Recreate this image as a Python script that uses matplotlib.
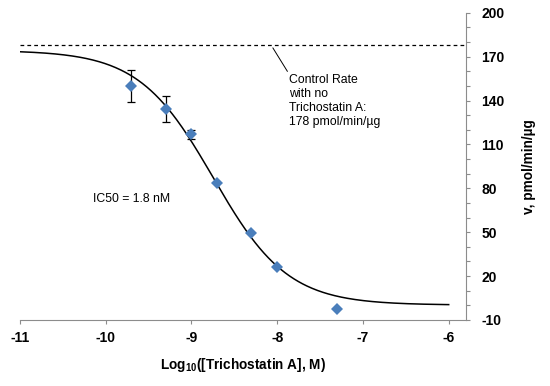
import matplotlib
matplotlib.use("Agg")
import matplotlib.pyplot as plt
import numpy as np
from matplotlib.ticker import MultipleLocator

plt.rcParams["font.family"] = ["Liberation Sans", "DejaVu Sans"]
plt.rcParams["mathtext.fontset"] = "custom"
plt.rcParams["mathtext.bf"] = "Liberation Sans:bold"
plt.rcParams["mathtext.rm"] = "Liberation Sans"
plt.rcParams["axes.unicode_minus"] = False

# measured rates (log10 of concentration in M)
log_conc = [-9.7, -9.3, -9.0, -8.7, -8.3, -8.0, -7.3]
rate = [150, 134, 117, 83.5, 49.5, 26, -2.5]
rate_err = [11, 9, 3, 0, 0, 0, 0]

# four-parameter fit
fit_top = 174.3
fit_bottom = 0.2
log_ic50 = np.log10(1.8e-9)
hill = 1.0
control_rate = 178

x_ticks = [-11, -10, -9, -8, -7, -6]
y_ticks = [-10, 20, 50, 80, 110, 140, 170, 200]

grey = "#8c8c8c"

fig = plt.figure(figsize=(5.5, 3.86), dpi=100)
ax = fig.add_axes([0.036, 0.171, 0.811, 0.796])

x_fit = np.linspace(-11, -6, 400)
y_fit = fit_bottom + (fit_top - fit_bottom) / (1 + 10 ** ((x_fit - log_ic50) * hill))
ax.plot(x_fit, y_fit, color="black", lw=1.1, zorder=2)

ax.axhline(control_rate, color="black", lw=0.9, ls=(0, (3, 2.5)), zorder=1)

ax.errorbar(log_conc, rate, yerr=[e if e > 0 else np.nan for e in rate_err],
            fmt="none", ecolor="black", elinewidth=0.9, capsize=3, capthick=0.9,
            zorder=3)
ax.plot(log_conc, rate, "D", color="#4a7ebb", markersize=6, zorder=4,
        markeredgewidth=0)

ax.set_xlim(-11, -5.8)
ax.set_ylim(-10, 200)

ax.spines["top"].set_visible(False)
ax.spines["left"].set_visible(False)
ax.spines["right"].set_color(grey)
ax.spines["bottom"].set_color(grey)
ax.spines["bottom"].set_bounds(-11, -5.8)

ax.yaxis.tick_right()
ax.yaxis.set_label_position("right")
ax.set_xticks(x_ticks)
ax.set_yticks(y_ticks)
ax.yaxis.set_minor_locator(MultipleLocator(10))
ax.tick_params(axis="both", which="both", color=grey, length=3, width=0.8,
               direction="out", labelsize=10, pad=5)
ax.tick_params(axis="y", which="major", pad=8)
for lab in ax.get_xticklabels() + ax.get_yticklabels():
    lab.set_fontweight("bold")

ax.set_xlabel(r"Log$_{\mathbf{10}}$([Trichostatin A], M)", fontsize=9.8,
              fontweight="bold", labelpad=8)
ax.set_ylabel("v, pmol/min/µg", fontsize=9.8, fontweight="bold", labelpad=13,
              rotation=90)

ax.text(-10.15, 73, "IC50 = 1.8 nM", fontsize=8.8, va="center", ha="left")
ax.annotate("Control Rate\nwith no\nTrichostatin A:\n178 pmol/min/µg",
            xy=(-8.05, 176), xytext=(-7.86, 158), fontsize=8.8,
            ha="left", va="top", linespacing=1.2,
            arrowprops=dict(arrowstyle="-", color="black", lw=0.7,
                            shrinkA=0, shrinkB=0, relpos=(0, 1)))

fig.savefig("out.png", dpi=100)
